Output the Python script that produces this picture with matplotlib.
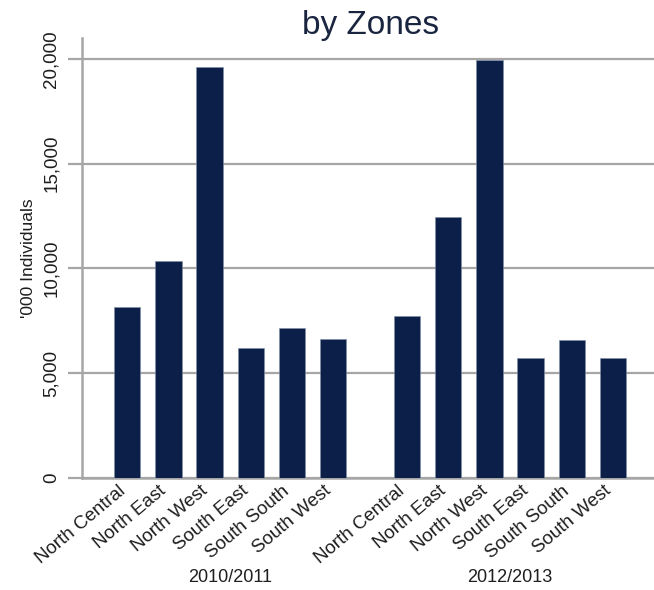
import numpy as np
import matplotlib.pyplot as plt
import matplotlib.transforms as mtransforms

plt.rcParams['font.family'] = ['Liberation Sans', 'DejaVu Sans']

# Data ('000 individuals)
zones = ['North Central', 'North East', 'North West', 'South East', 'South South', 'South West']
periods = ['2010/2011', '2012/2013']
values_2010 = [8150, 10350, 19600, 6200, 7150, 6650]
values_2012 = [7750, 12450, 19950, 5750, 6600, 5750]
yticks = [0, 5000, 10000, 15000, 20000]

bar_color = '#0b1f48'
grid_color = '#a6a6a6'
text_color = '#1e1e1e'

fig = plt.figure(figsize=(6.54, 5.90), dpi=100)
ax = fig.add_axes([0.1254, 0.1898, 0.8746, 0.7458])

x1 = np.arange(len(zones))
x2 = x1 + len(zones) + 0.8
ax.bar(x1, values_2010, width=0.64, color=bar_color, edgecolor='#8090a8', linewidth=0.4, zorder=3)
ax.bar(x2, values_2012, width=0.64, color=bar_color, edgecolor='#8090a8', linewidth=0.4, zorder=3)

ax.set_ylim(0, 21000)
ax.set_xlim(-1.1, x2[-1] + 1.0)
ax.set_yticks(yticks)
ax.set_yticklabels([f'{v:,}' for v in yticks], rotation=90, va='center',
                   fontsize=13.5, color=text_color)
ax.yaxis.grid(True, color=grid_color, linewidth=1.6, zorder=0)
ax.tick_params(axis='y', length=10, width=1.6, color=grid_color, pad=6)

ax.set_xticks(np.concatenate([x1, x2]))
ax.set_xticklabels(zones + zones, rotation=40, ha='right', rotation_mode='anchor',
                   fontsize=13.5, color=text_color)
ax.tick_params(axis='x', length=0, pad=3)
# nudge the slanted labels a little to the left, as in the original
shift = mtransforms.ScaledTranslation(-7 / 72, 0, fig.dpi_scale_trans)
for lbl in ax.get_xticklabels():
    lbl.set_transform(lbl.get_transform() + shift)

for side in ['top', 'right']:
    ax.spines[side].set_visible(False)
for side in ['left', 'bottom']:
    ax.spines[side].set_color(grid_color)
    ax.spines[side].set_linewidth(1.8)

ax.set_ylabel("'000 Individuals", fontsize=12.5, color=text_color, labelpad=5)

trans = mtransforms.blended_transform_factory(ax.transData, ax.transAxes)
for xs, label in zip([x1, x2], periods):
    ax.text(xs.mean(), -0.227, label, transform=trans, ha='center', va='center',
            fontsize=13, color=text_color)

fig.text(0.566, 0.957, 'by Zones', ha='center', va='center', fontsize=24, color='#1a2540')

fig.savefig('out.png', dpi=100)
